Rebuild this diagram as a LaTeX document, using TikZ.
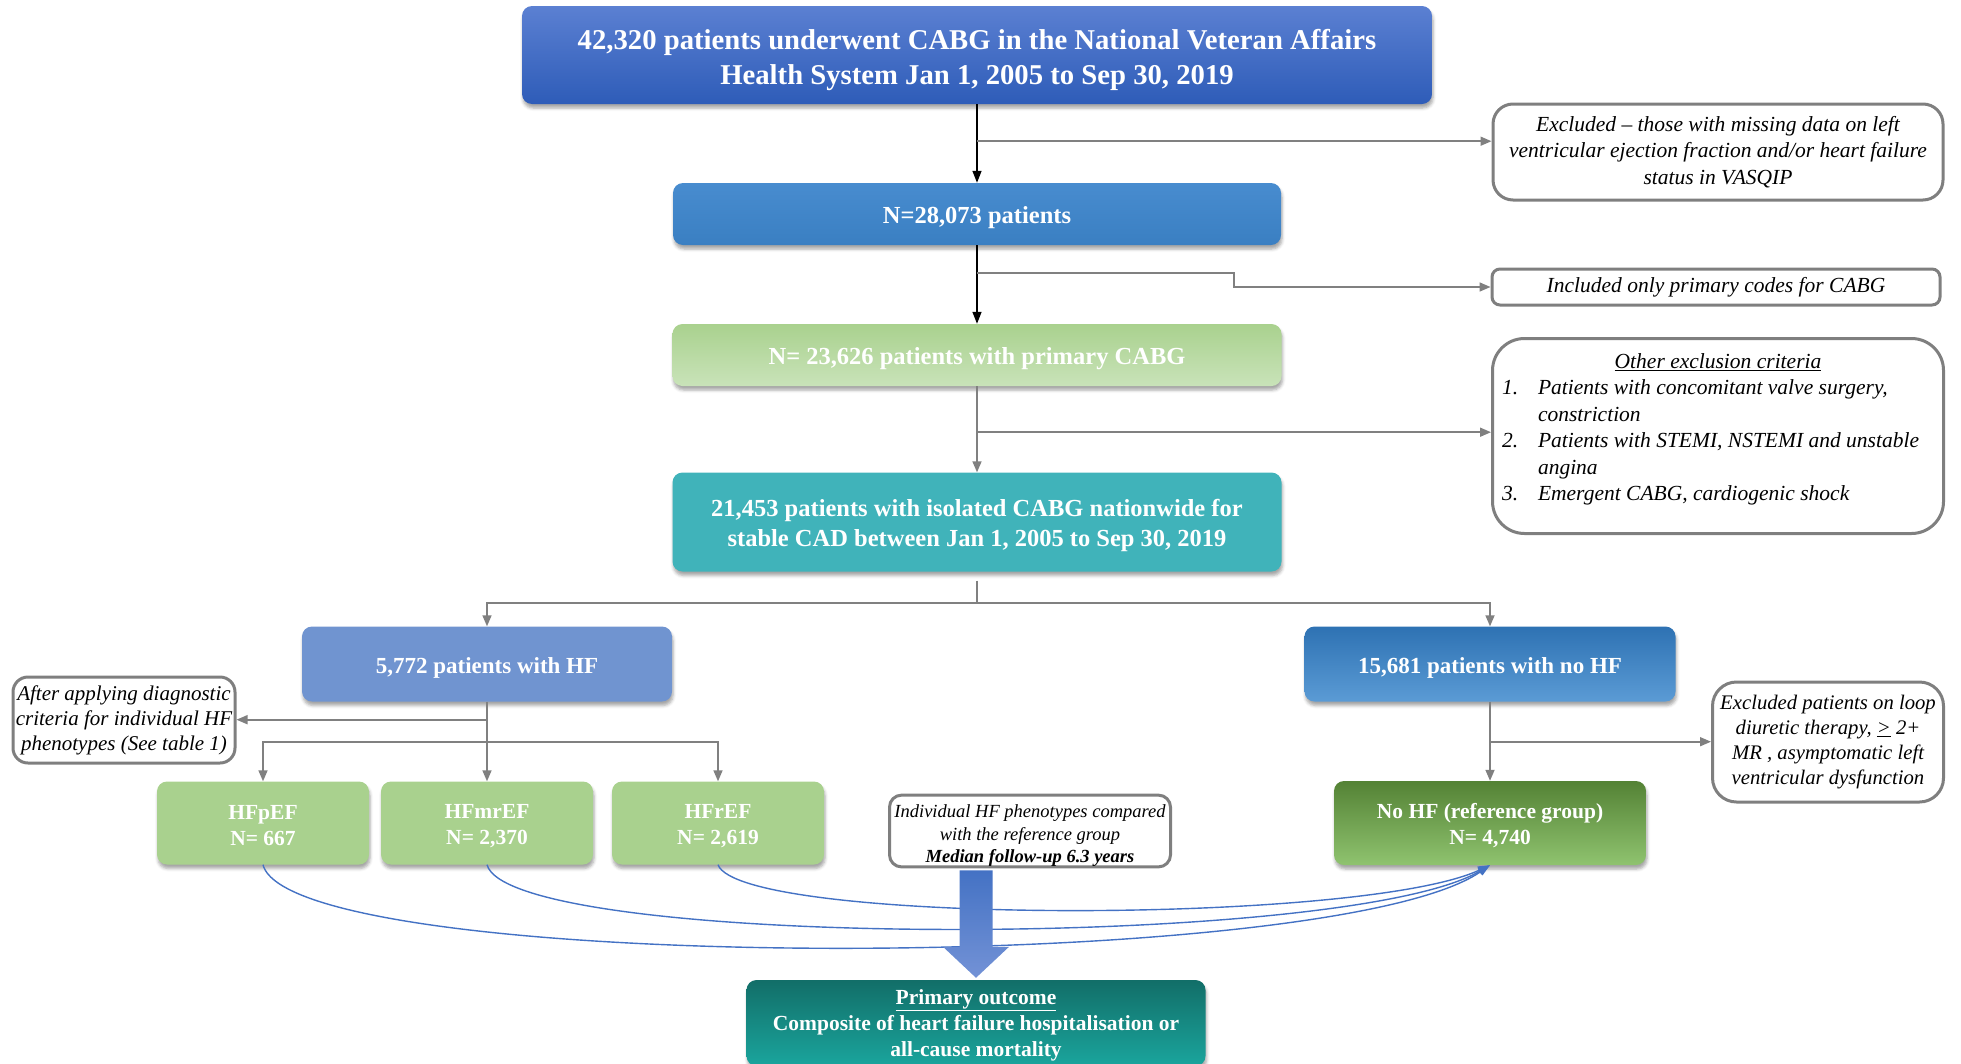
\documentclass[tikz,border=0pt]{standalone}
\usepackage{fontspec}
\setmainfont{Liberation Serif}
\usetikzlibrary{arrows.meta,calc,shadows.blur}

\definecolor{topA}{HTML}{5B80D2}
\definecolor{topB}{HTML}{2E5CB8}
\definecolor{nA}{HTML}{488CCF}
\definecolor{nM}{HTML}{5EA0D8}
\definecolor{nB}{HTML}{3A7FC2}
\definecolor{gA}{HTML}{A9D18E}
\definecolor{gB}{HTML}{C9E3B9}
\definecolor{tealbox}{HTML}{40B3BA}
\definecolor{hfblue}{HTML}{7094D0}
\definecolor{nhA}{HTML}{2E72B3}
\definecolor{nhB}{HTML}{5B9BD5}
\definecolor{refA}{HTML}{548235}
\definecolor{refB}{HTML}{8FC36F}
\definecolor{poA}{HTML}{126E68}
\definecolor{poB}{HTML}{1AA59D}
\definecolor{arA}{HTML}{4472C4}
\definecolor{arB}{HTML}{7392D6}
\definecolor{curveblue}{HTML}{4472C4}
\definecolor{linegray}{HTML}{808080}
\definecolor{notegray}{HTML}{7F7F7F}

% taller first line, so the text block sits a little lower in its box
\newcommand{\txtdrop}[1]{\rule{0pt}{\dimexpr0.69em+#1\relax}}

\tikzset{
  cbox/.style={rounded corners=10pt, align=center, text=white, inner sep=0pt,
    blur shadow={shadow xshift=1pt, shadow yshift=-4pt, shadow blur radius=3pt, shadow opacity=35}},
  note/.style={draw=notegray, line width=3pt, fill=white, align=center, inner sep=0pt},
  bigfont/.style={font=\fontsize{28.7}{35}\selectfont\bfseries},
  midfont/.style={font=\fontsize{24.5}{30}\selectfont\bfseries},
  hffont/.style={font=\fontsize{23}{28}\selectfont\bfseries},
  smallfont/.style={font=\fontsize{21.5}{26}\selectfont\bfseries},
  notefont/.style={font=\fontsize{21.5}{26.5}\selectfont\itshape},
  link/.style={draw=linegray, line width=1.6pt, -{Triangle[length=11pt,width=9pt]}},
  plain/.style={draw=linegray, line width=1.6pt},
  blk/.style={draw=black, line width=1.4pt, -{Triangle[length=12pt,width=9pt]}},
  curve/.style={draw=curveblue, line width=1.4pt, -{Triangle[length=12pt,width=8pt]}},
}

\begin{document}
\begin{tikzpicture}[x=1pt,y=-1pt]
\useasboundingbox (0,0) rectangle (1961,1063);
\clip (0,0) rectangle (1961,1063);

% main flow
\node[cbox, bigfont, top color=topA, bottom color=topB, minimum width=910, minimum height=98]
  (top) at (977,55) {\txtdrop{10pt}42,320 patients underwent CABG in the National Veteran Affairs\\Health System Jan 1, 2005 to Sep 30, 2019};
\node[cbox, midfont, top color=nA, middle color=nM, bottom color=nB, minimum width=608, minimum height=62]
  (n1) at (977,214) {\txtdrop{8pt}N=28,073 patients};
\node[cbox, midfont, top color=gA, middle color=gA, bottom color=gB, minimum width=609, minimum height=62]
  (n2) at (977,355) {\txtdrop{8pt}N= 23,626 patients with primary CABG};
\node[cbox, midfont, fill=tealbox, minimum width=609, minimum height=99]
  (n3) at (977,522) {\txtdrop{8pt}21,453 patients with isolated CABG nationwide for\\stable CAD between Jan 1, 2005 to Sep 30, 2019};

% exclusion notes on the right
\node[note, notefont, minimum width=450, minimum height=96, rounded corners=20pt]
  (excl1) at (1718,152) {Excluded -- those with missing data on left\\ventricular ejection fraction and/or heart failure\\status in VASQIP};
\node[note, notefont, minimum width=448, minimum height=36, rounded corners=8pt]
  (excl2) at (1716,287) {Included only primary codes for CABG};
\node[note, notefont, minimum width=451, minimum height=195, rounded corners=32pt]
  (excl3) at (1718,436) {\begin{tabular}{@{}p{36pt}@{}l@{\hspace{15pt}}}
    \multicolumn{2}{c}{\underline{Other exclusion criteria}}\\
    1. & Patients with concomitant valve surgery,\\
       & constriction\\
    2. & Patients with STEMI, NSTEMI and unstable\\
       & angina\\
    3. & Emergent CABG, cardiogenic shock\\[14pt]
  \end{tabular}};

% HF / no HF split
\node[cbox, hffont, fill=hfblue, minimum width=370, minimum height=75]
  (hf) at (487,664) {\txtdrop{8pt}5,772 patients with HF};
\node[cbox, hffont, top color=nhA, bottom color=nhB, minimum width=371, minimum height=75]
  (nohf) at (1490,664) {\txtdrop{8pt}15,681 patients with no HF};

% phenotypes
\node[cbox, smallfont, fill=gA, minimum width=212, minimum height=83]
  (hfp) at (263,823) {\txtdrop{5pt}HFpEF\\N= 667};
\node[cbox, smallfont, fill=gA, minimum width=212, minimum height=83]
  (hfm) at (487,823) {\txtdrop{5pt}HFmrEF\\N= 2,370};
\node[cbox, smallfont, fill=gA, minimum width=212, minimum height=83]
  (hfr) at (718,823) {\txtdrop{5pt}HFrEF\\N= 2,619};
\node[cbox, smallfont, top color=refA, bottom color=refB, minimum width=312, minimum height=84]
  (ref) at (1490,823) {\txtdrop{5pt}No HF (reference group)\\N= 4,740};

\node[note, font=\fontsize{21}{25}\selectfont\itshape, minimum width=222, minimum height=86, rounded corners=15pt]
  (lnote) at (124,720) {After applying diagnostic\\criteria for individual HF\\phenotypes (See table 1)};
\node[note, font=\fontsize{20.7}{25}\selectfont\itshape, minimum width=231, minimum height=120, rounded corners=24pt]
  (rnote) at (1828,742) {Excluded patients on loop\\diuretic therapy, \underline{>} 2+\\MR , asymptomatic left\\ventricular dysfunction};
\node[note, font=\fontsize{18.5}{22.5}\selectfont\itshape, minimum width=281, minimum height=69, rounded corners=12pt]
  (cmp) at (1030,831) {\txtdrop{10pt}Individual HF phenotypes compared\\with the reference group\\\textbf{Median follow-up 6.3 years}};

% outcome
\node[cbox, smallfont, top color=poA, middle color=poB, bottom color=poB, minimum width=459, minimum height=86]
  (po) at (976,1023) {\txtdrop{4pt}\underline{Primary outcome}\\Composite of heart failure hospitalisation or\\all-cause mortality};

% trunk connectors
\draw[blk] (top.south) -- (n1.north);
\coordinate (t1) at ($(top.south)+(0,37)$);
\draw[link] (t1) -- (t1 -| excl1.west);

\draw[blk] (n1.south) -- (n2.north);
\coordinate (t2) at ($(n1.south)+(0,28)$);
\draw[link] (t2) -- ++(257,0) |- (excl2.west);

\draw[link] (n2.south) -- (n3.north);
\coordinate (t3) at ($(n2.south)+(0,46)$);
\draw[link] (t3) -- (t3 -| excl3.west);

\coordinate (t4) at ($(n3.south)+(0,31)$);
\draw[plain] ($(n3.south)+(0,9)$) -- (t4);
\draw[link] (t4) -| (hf.north);
\draw[link] (t4) -| (nohf.north);

% HF branch
\draw[link] (hf.south) -- (hfm.north);
\coordinate (h1) at ($(hf.south)+(0,18)$);
\draw[link] (h1) -- (h1 -| lnote.east);
\coordinate (h2) at ($(hf.south)+(0,40)$);
\draw[link] (h2) -| (hfp.north);
\draw[link] (h2) -| (hfr.north);

% no HF branch
\draw[link] (nohf.south) -- (ref.north);
\coordinate (r1) at ($(nohf.south)+(0,40)$);
\draw[link] (r1) -- (r1 -| rnote.west);

% comparisons with the reference group
\draw[curve] (hfp.south) .. controls +(28,110) and +(-160,110) .. (ref.south);
\draw[curve] (hfm.south) .. controls +(23,85) and +(-145,85) .. (ref.south);
\draw[curve] (hfr.south) .. controls +(22,60) and +(-130,60) .. (ref.south);

% block arrow to the outcome
\coordinate (ba) at (po.north |- cmp.south);
\shade[top color=arA, bottom color=arB]
  ($(ba)+(-16.5,2)$) -- ($(ba)+(16.5,2)$) -- ($(po.north)+(16.5,-33)$) --
  ($(po.north)+(33,-33)$) -- ($(po.north)+(0,-2)$) -- ($(po.north)+(-33,-33)$) --
  ($(po.north)+(-16.5,-33)$) -- cycle;
\end{tikzpicture}
\end{document}
